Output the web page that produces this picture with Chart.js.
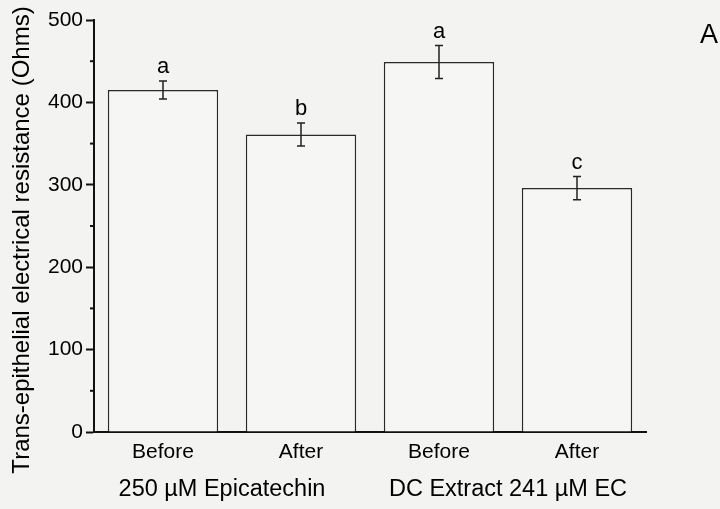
<!DOCTYPE html>
<html>
<head>
<meta charset="utf-8">
<script src="https://cdn.jsdelivr.net/npm/chart.js@4.4.1/dist/chart.umd.min.js"></script>
<style>
  body{margin:0;background:#f3f3f1;}
  #wrap{width:720px;height:509px;}
</style>
</head>
<body>
<div id="wrap"><canvas id="teer"></canvas></div>
<script>
// values
const categories = ["Before", "After", "Before", "After"];
const groups = ["250 \u00b5M Epicatechin", "DC Extract 241 \u00b5M EC"];
const teerMeans = [415, 361, 449, 296];
const teerErrors = [11, 14, 20, 14];
const sigLetters = ["a", "b", "a", "c"];
const yTicks = [0, 100, 200, 300, 400, 500];
const yMinorTicks = [50, 150, 250, 350, 450];
const yTitle = "Trans-epithelial electrical resistance (Ohms)";
const panelLetter = "A";

const FONT = "'Liberation Sans', Arial, sans-serif";

// error bars, letters, minor ticks and the text outside the axes
const extras = {
  id: 'extras',
  beforeDraw(chart){
    const ctx = chart.ctx;
    ctx.save();
    ctx.fillStyle = '#f3f3f1';
    ctx.fillRect(0, 0, chart.width, chart.height);
    ctx.restore();
  },
  afterDatasetsDraw(chart){
    const {ctx, scales: {x, y}} = chart;
    ctx.save();
    ctx.strokeStyle = '#222';
    ctx.fillStyle = '#000';
    ctx.lineWidth = 1.5;
    ctx.textAlign = 'center';
    ctx.textBaseline = 'bottom';
    ctx.font = '22px ' + FONT;
    teerMeans.forEach((m, i) => {
      const px = x.getPixelForValue(i);
      const top = y.getPixelForValue(m + teerErrors[i]);
      const bot = y.getPixelForValue(m - teerErrors[i]);
      ctx.beginPath();
      ctx.moveTo(px, top); ctx.lineTo(px, bot);
      ctx.moveTo(px - 4, top); ctx.lineTo(px + 4, top);
      ctx.moveTo(px - 4, bot); ctx.lineTo(px + 4, bot);
      ctx.stroke();
      ctx.fillText(sigLetters[i], px, top - 3);
    });

    // minor ticks on y
    ctx.lineWidth = 2;
    ctx.strokeStyle = '#111';
    yMinorTicks.forEach(v => {
      const py = y.getPixelForValue(v);
      ctx.beginPath();
      ctx.moveTo(y.right - 4, py); ctx.lineTo(y.right, py);
      ctx.stroke();
    });

    // group labels under each pair of bars
    ctx.font = '23.5px ' + FONT;
    ctx.textBaseline = 'middle';
    groups.forEach((g, k) => {
      const cx = (x.getPixelForValue(2 * k) + x.getPixelForValue(2 * k + 1)) / 2;
      ctx.fillText(g, cx - (k === 0 ? 10 : 0), 490);
    });

    // y title
    ctx.save();
    ctx.translate(22, 240);
    ctx.rotate(-Math.PI / 2);
    ctx.font = '24px ' + FONT;
    ctx.fillText(yTitle, 0, 0);
    ctx.restore();

    // panel letter
    ctx.font = '27px ' + FONT;
    ctx.fillText(panelLetter, 709, 36);
    ctx.restore();
  }
};

new Chart(document.getElementById('teer'), {
  type: 'bar',
  data: {
    labels: categories,
    datasets: [{
      data: teerMeans,
      backgroundColor: '#f6f6f4',
      borderColor: '#2a2a2a',
      borderWidth: 1.5,
      barPercentage: 0.8,
      categoryPercentage: 1
    }]
  },
  options: {
    responsive: true,
    maintainAspectRatio: false,
    animation: false,
    layout: {padding: {top: 20, right: 74, left: 0, bottom: 0}},
    plugins: {legend: {display: false}, tooltip: {enabled: false}},
    scales: {
      x: {
        grid: {display: false, drawTicks: false},
        border: {display: true, color: '#111', width: 2},
        ticks: {color: '#000', padding: 8, font: {family: FONT, size: 21}},
        afterFit: s => { s.height = 77; }
      },
      y: {
        min: 0,
        max: 500,
        afterBuildTicks: s => { s.ticks = yTicks.map(v => ({value: v})); },
        grid: {drawOnChartArea: false, drawTicks: true, tickLength: 8, tickColor: '#111', tickWidth: 2},
        border: {display: true, color: '#111', width: 2},
        ticks: {color: '#000', padding: 3, font: {family: FONT, size: 21}},
        afterFit: s => { s.width = 94; }
      }
    }
  },
  plugins: [extras]
});
</script>
</body>
</html>
